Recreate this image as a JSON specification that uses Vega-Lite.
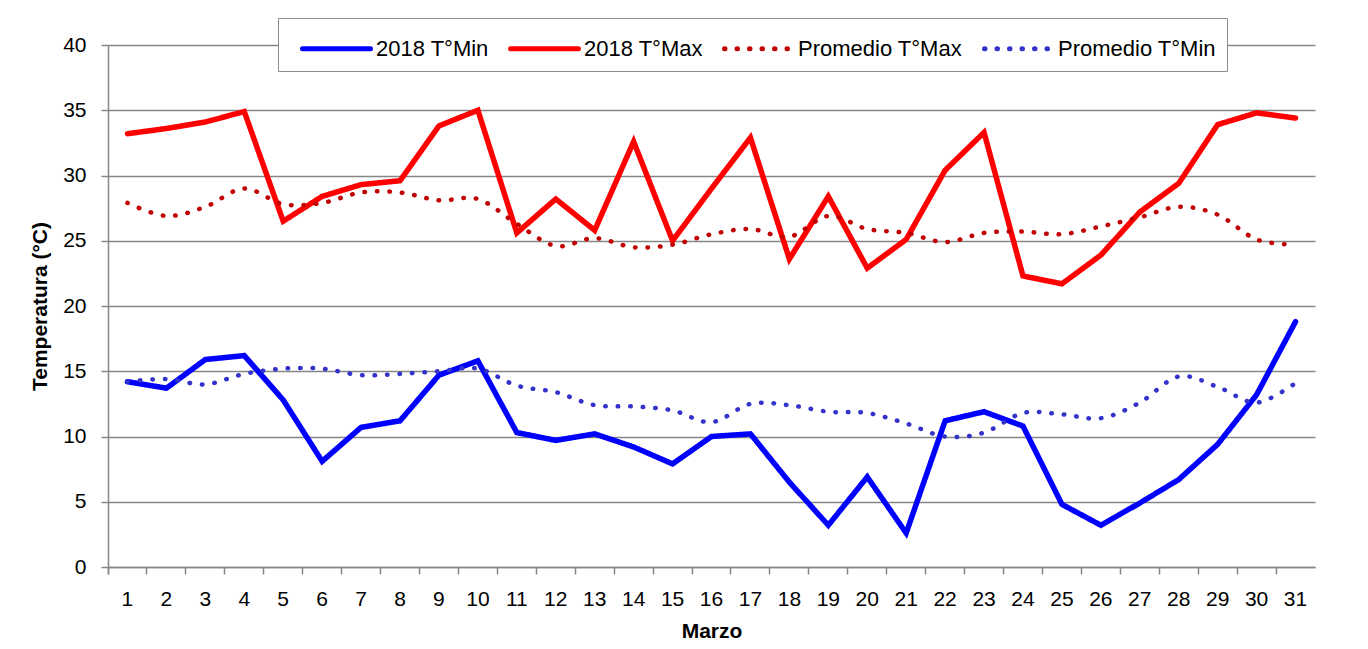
{
  "$schema": "https://vega.github.io/schema/vega-lite/v6.json",
  "width": 1207,
  "height": 522,
  "autosize": {"type": "none"},
  "padding": {"left": 108, "top": 45, "right": 53, "bottom": 82},
  "background": "white",
  "config": {
    "font": "Liberation Sans",
    "view": {"stroke": null},
    "axis": {
      "labelFont": "Liberation Sans",
      "titleFont": "Liberation Sans",
      "labelColor": "#000000",
      "titleColor": "#000000",
      "labelFontSize": 21,
      "titleFontSize": 21,
      "titleFontWeight": "bold",
      "domainColor": "#868686",
      "domainWidth": 1.5,
      "tickColor": "#868686",
      "tickWidth": 1.5,
      "tickSize": 7,
      "gridColor": "#868686",
      "gridWidth": 1.5,
      "gridOpacity": 1
    },
    "legend": {
      "labelFont": "Liberation Sans",
      "labelFontSize": 22,
      "labelColor": "#000000",
      "labelLimit": 400
    }
  },
  "data": {
    "values": [
      {"dia": 1, "serie": "2018 T°Min", "temp": 14.2},
      {"dia": 2, "serie": "2018 T°Min", "temp": 13.7},
      {"dia": 3, "serie": "2018 T°Min", "temp": 15.9},
      {"dia": 4, "serie": "2018 T°Min", "temp": 16.2},
      {"dia": 5, "serie": "2018 T°Min", "temp": 12.8},
      {"dia": 6, "serie": "2018 T°Min", "temp": 8.1},
      {"dia": 7, "serie": "2018 T°Min", "temp": 10.7},
      {"dia": 8, "serie": "2018 T°Min", "temp": 11.2},
      {"dia": 9, "serie": "2018 T°Min", "temp": 14.7},
      {"dia": 10, "serie": "2018 T°Min", "temp": 15.8},
      {"dia": 11, "serie": "2018 T°Min", "temp": 10.3},
      {"dia": 12, "serie": "2018 T°Min", "temp": 9.7},
      {"dia": 13, "serie": "2018 T°Min", "temp": 10.2},
      {"dia": 14, "serie": "2018 T°Min", "temp": 9.2},
      {"dia": 15, "serie": "2018 T°Min", "temp": 7.9},
      {"dia": 16, "serie": "2018 T°Min", "temp": 10.0},
      {"dia": 17, "serie": "2018 T°Min", "temp": 10.2},
      {"dia": 18, "serie": "2018 T°Min", "temp": 6.5},
      {"dia": 19, "serie": "2018 T°Min", "temp": 3.2},
      {"dia": 20, "serie": "2018 T°Min", "temp": 6.9},
      {"dia": 21, "serie": "2018 T°Min", "temp": 2.6},
      {"dia": 22, "serie": "2018 T°Min", "temp": 11.2},
      {"dia": 23, "serie": "2018 T°Min", "temp": 11.9},
      {"dia": 24, "serie": "2018 T°Min", "temp": 10.8},
      {"dia": 25, "serie": "2018 T°Min", "temp": 4.8},
      {"dia": 26, "serie": "2018 T°Min", "temp": 3.2},
      {"dia": 27, "serie": "2018 T°Min", "temp": 4.9},
      {"dia": 28, "serie": "2018 T°Min", "temp": 6.7},
      {"dia": 29, "serie": "2018 T°Min", "temp": 9.4},
      {"dia": 30, "serie": "2018 T°Min", "temp": 13.2},
      {"dia": 31, "serie": "2018 T°Min", "temp": 18.8},
      {"dia": 1, "serie": "2018 T°Max", "temp": 33.2},
      {"dia": 2, "serie": "2018 T°Max", "temp": 33.6},
      {"dia": 3, "serie": "2018 T°Max", "temp": 34.1},
      {"dia": 4, "serie": "2018 T°Max", "temp": 34.9},
      {"dia": 5, "serie": "2018 T°Max", "temp": 26.5},
      {"dia": 6, "serie": "2018 T°Max", "temp": 28.4},
      {"dia": 7, "serie": "2018 T°Max", "temp": 29.3},
      {"dia": 8, "serie": "2018 T°Max", "temp": 29.6},
      {"dia": 9, "serie": "2018 T°Max", "temp": 33.8},
      {"dia": 10, "serie": "2018 T°Max", "temp": 35.0},
      {"dia": 11, "serie": "2018 T°Max", "temp": 25.6},
      {"dia": 12, "serie": "2018 T°Max", "temp": 28.2},
      {"dia": 13, "serie": "2018 T°Max", "temp": 25.8},
      {"dia": 14, "serie": "2018 T°Max", "temp": 32.6},
      {"dia": 15, "serie": "2018 T°Max", "temp": 25.0},
      {"dia": 16, "serie": "2018 T°Max", "temp": 29.0},
      {"dia": 17, "serie": "2018 T°Max", "temp": 32.9},
      {"dia": 18, "serie": "2018 T°Max", "temp": 23.6},
      {"dia": 19, "serie": "2018 T°Max", "temp": 28.4},
      {"dia": 20, "serie": "2018 T°Max", "temp": 22.9},
      {"dia": 21, "serie": "2018 T°Max", "temp": 25.1},
      {"dia": 22, "serie": "2018 T°Max", "temp": 30.4},
      {"dia": 23, "serie": "2018 T°Max", "temp": 33.3},
      {"dia": 24, "serie": "2018 T°Max", "temp": 22.3},
      {"dia": 25, "serie": "2018 T°Max", "temp": 21.7},
      {"dia": 26, "serie": "2018 T°Max", "temp": 23.9},
      {"dia": 27, "serie": "2018 T°Max", "temp": 27.2},
      {"dia": 28, "serie": "2018 T°Max", "temp": 29.4},
      {"dia": 29, "serie": "2018 T°Max", "temp": 33.9},
      {"dia": 30, "serie": "2018 T°Max", "temp": 34.8},
      {"dia": 31, "serie": "2018 T°Max", "temp": 34.4},
      {"dia": 1, "serie": "Promedio T°Max", "temp": 27.9},
      {"dia": 2, "serie": "Promedio T°Max", "temp": 26.9},
      {"dia": 3, "serie": "Promedio T°Max", "temp": 27.6},
      {"dia": 4, "serie": "Promedio T°Max", "temp": 29.0},
      {"dia": 5, "serie": "Promedio T°Max", "temp": 27.8},
      {"dia": 6, "serie": "Promedio T°Max", "temp": 27.9},
      {"dia": 7, "serie": "Promedio T°Max", "temp": 28.7},
      {"dia": 8, "serie": "Promedio T°Max", "temp": 28.7},
      {"dia": 9, "serie": "Promedio T°Max", "temp": 28.1},
      {"dia": 10, "serie": "Promedio T°Max", "temp": 28.2},
      {"dia": 11, "serie": "Promedio T°Max", "temp": 26.3},
      {"dia": 12, "serie": "Promedio T°Max", "temp": 24.6},
      {"dia": 13, "serie": "Promedio T°Max", "temp": 25.2},
      {"dia": 14, "serie": "Promedio T°Max", "temp": 24.5},
      {"dia": 15, "serie": "Promedio T°Max", "temp": 24.7},
      {"dia": 16, "serie": "Promedio T°Max", "temp": 25.5},
      {"dia": 17, "serie": "Promedio T°Max", "temp": 25.9},
      {"dia": 18, "serie": "Promedio T°Max", "temp": 25.3},
      {"dia": 19, "serie": "Promedio T°Max", "temp": 26.9},
      {"dia": 20, "serie": "Promedio T°Max", "temp": 25.9},
      {"dia": 21, "serie": "Promedio T°Max", "temp": 25.6},
      {"dia": 22, "serie": "Promedio T°Max", "temp": 24.9},
      {"dia": 23, "serie": "Promedio T°Max", "temp": 25.6},
      {"dia": 24, "serie": "Promedio T°Max", "temp": 25.7},
      {"dia": 25, "serie": "Promedio T°Max", "temp": 25.5},
      {"dia": 26, "serie": "Promedio T°Max", "temp": 26.1},
      {"dia": 27, "serie": "Promedio T°Max", "temp": 26.8},
      {"dia": 28, "serie": "Promedio T°Max", "temp": 27.6},
      {"dia": 29, "serie": "Promedio T°Max", "temp": 27.0},
      {"dia": 30, "serie": "Promedio T°Max", "temp": 25.1},
      {"dia": 31, "serie": "Promedio T°Max", "temp": 24.7},
      {"dia": 1, "serie": "Promedio T°Min", "temp": 14.2},
      {"dia": 2, "serie": "Promedio T°Min", "temp": 14.4},
      {"dia": 3, "serie": "Promedio T°Min", "temp": 14.0},
      {"dia": 4, "serie": "Promedio T°Min", "temp": 14.8},
      {"dia": 5, "serie": "Promedio T°Min", "temp": 15.2},
      {"dia": 6, "serie": "Promedio T°Min", "temp": 15.2},
      {"dia": 7, "serie": "Promedio T°Min", "temp": 14.7},
      {"dia": 8, "serie": "Promedio T°Min", "temp": 14.8},
      {"dia": 9, "serie": "Promedio T°Min", "temp": 15.0},
      {"dia": 10, "serie": "Promedio T°Min", "temp": 15.2},
      {"dia": 11, "serie": "Promedio T°Min", "temp": 13.9},
      {"dia": 12, "serie": "Promedio T°Min", "temp": 13.4},
      {"dia": 13, "serie": "Promedio T°Min", "temp": 12.4},
      {"dia": 14, "serie": "Promedio T°Min", "temp": 12.3},
      {"dia": 15, "serie": "Promedio T°Min", "temp": 12.0},
      {"dia": 16, "serie": "Promedio T°Min", "temp": 11.1},
      {"dia": 17, "serie": "Promedio T°Min", "temp": 12.5},
      {"dia": 18, "serie": "Promedio T°Min", "temp": 12.4},
      {"dia": 19, "serie": "Promedio T°Min", "temp": 11.9},
      {"dia": 20, "serie": "Promedio T°Min", "temp": 11.8},
      {"dia": 21, "serie": "Promedio T°Min", "temp": 11.0},
      {"dia": 22, "serie": "Promedio T°Min", "temp": 10.0},
      {"dia": 23, "serie": "Promedio T°Min", "temp": 10.3},
      {"dia": 24, "serie": "Promedio T°Min", "temp": 11.8},
      {"dia": 25, "serie": "Promedio T°Min", "temp": 11.7},
      {"dia": 26, "serie": "Promedio T°Min", "temp": 11.4},
      {"dia": 27, "serie": "Promedio T°Min", "temp": 12.6},
      {"dia": 28, "serie": "Promedio T°Min", "temp": 14.6},
      {"dia": 29, "serie": "Promedio T°Min", "temp": 13.8},
      {"dia": 30, "serie": "Promedio T°Min", "temp": 12.6},
      {"dia": 31, "serie": "Promedio T°Min", "temp": 14.1}
    ]
  },
  "encoding": {
    "x": {
      "field": "dia",
      "type": "ordinal",
      "scale": {"type": "band", "paddingInner": 0, "paddingOuter": 0},
      "axis": {
        "title": "Marzo",
        "labelAngle": 0,
        "bandPosition": 0,
        "tickExtra": true,
        "grid": false,
        "labelPadding": 14,
        "titlePadding": 11
      }
    },
    "y": {
      "field": "temp",
      "type": "quantitative",
      "scale": {"domain": [0, 40], "nice": false, "zero": true},
      "axis": {
        "title": "Temperatura (°C)",
        "values": [0, 5, 10, 15, 20, 25, 30, 35, 40],
        "grid": true,
        "labelPadding": 15,
        "titlePadding": 12
      }
    },
    "color": {
      "field": "serie",
      "type": "nominal",
      "scale": {
        "domain": ["2018 T°Min", "2018 T°Max", "Promedio T°Max", "Promedio T°Min"],
        "range": ["#0000FF", "#FF0000", "#C00000", "#3333CC"]
      },
      "legend": {
        "title": null,
        "orient": "none",
        "legendX": 170,
        "legendY": -27,
        "direction": "horizontal",
        "fillColor": "white",
        "strokeColor": "#8c8c8c",
        "padding": 11,
        "labelOffset": 20,
        "columnPadding": 8,
        "labelLimit": 400,
        "symbolType": "M-2,0H2",
        "symbolSize": 1156,
        "symbolOffset": 28,
        "symbolStrokeWidth": 5,
        "encoding": {"symbols": {"strokeCap": {"value": "round"}}}
      }
    },
    "strokeDash": {
      "field": "serie",
      "type": "nominal",
      "scale": {
        "domain": ["2018 T°Min", "2018 T°Max", "Promedio T°Max", "Promedio T°Min"],
        "range": [[1, 0], [1, 0], [0.5, 12], [0.5, 12]]
      },
      "legend": {
        "title": null,
        "orient": "none",
        "legendX": 170,
        "legendY": -27,
        "direction": "horizontal",
        "fillColor": "white",
        "strokeColor": "#8c8c8c",
        "padding": 11,
        "labelOffset": 20,
        "columnPadding": 8,
        "labelLimit": 400,
        "symbolType": "M-2,0H2",
        "symbolSize": 1156,
        "symbolOffset": 28,
        "symbolStrokeWidth": 5,
        "encoding": {"symbols": {"strokeCap": {"value": "round"}}}
      }
    }
  },
  "layer": [
    {
      "transform": [{"filter": "indexof(datum.serie, '2018') === 0"}],
      "mark": {"type": "line", "strokeWidth": 5.5, "strokeCap": "round", "strokeJoin": "miter"}
    },
    {
      "transform": [{"filter": "indexof(datum.serie, 'Promedio') === 0"}],
      "mark": {"type": "line", "strokeWidth": 4.5, "strokeCap": "round", "interpolate": "cardinal"}
    }
  ]
}
